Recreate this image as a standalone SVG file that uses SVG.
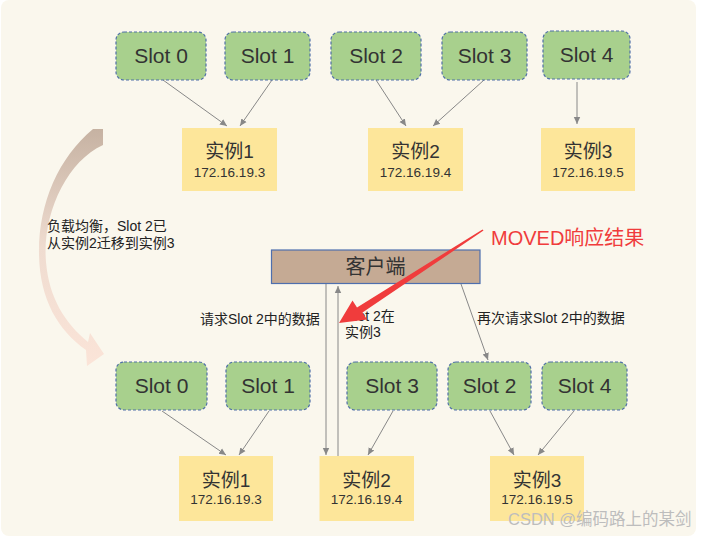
<svg xmlns="http://www.w3.org/2000/svg" width="704" height="537" viewBox="0 0 704 537">
<defs>
<style>
.slot{fill:#a8d08d;stroke:#4f6fa8;stroke-width:1.2;stroke-dasharray:3 2}
.inst{fill:#fde69a}
.st{font-family:"Liberation Sans","Noto Sans CJK SC",sans-serif;font-size:21px;fill:#333;text-anchor:middle;dominant-baseline:central}
.it{font-family:"Liberation Sans","Noto Sans CJK SC",sans-serif;font-size:19px;fill:#333;text-anchor:middle;dominant-baseline:central}
.ip{font-family:"Liberation Sans","Noto Sans CJK SC",sans-serif;font-size:13.5px;fill:#333;text-anchor:middle;dominant-baseline:central}
.lb{font-family:"Liberation Sans","Noto Sans CJK SC",sans-serif;font-size:14px;fill:#222;dominant-baseline:central}
.ln{stroke:#888;stroke-width:1;fill:none;marker-end:url(#ah)}
</style>
<marker id="ah" markerWidth="8" markerHeight="8" refX="7" refY="4" orient="auto" markerUnits="userSpaceOnUse">
<path d="M0,0.8 L7,4 L0,7.2 Z" fill="#888"/>
</marker>
<linearGradient id="cg" x1="0" y1="0" x2="0" y2="1">
<stop offset="0" stop-color="#c6b2a2"/>
<stop offset="0.5" stop-color="#efdcd0"/>
<stop offset="1" stop-color="#fbe4d8"/>
</linearGradient>
</defs>
<rect x="0" y="0" width="704" height="537" fill="#ffffff"/>
<rect x="1" y="0" width="695" height="536" rx="8" fill="#faf7ed"/>

<g id="curve-arrow">
<path d="M93,129 L103,129 L103,145 C66,162 42,215 46,262 C49,298 65,323 88,342 L90,333 L104,354 L87,366 L86,350 C58,330 40,300 39,255 C38,205 58,158 93,129 Z" fill="url(#cg)"/>
</g>

<g id="connectors">
<line class="ln" x1="163" y1="80" x2="227" y2="126"/>
<line class="ln" x1="272" y1="80" x2="240" y2="126"/>
<line class="ln" x1="376" y1="80" x2="406" y2="126"/>
<line class="ln" x1="484" y1="80" x2="433" y2="126"/>
<line class="ln" x1="577" y1="82" x2="577" y2="124"/>
<line class="ln" x1="162" y1="411" x2="226" y2="455"/>
<line class="ln" x1="269" y1="411" x2="239" y2="455"/>
<line class="ln" x1="393" y1="411" x2="368" y2="455"/>
<line class="ln" x1="490" y1="411" x2="514" y2="455"/>
<line class="ln" x1="574" y1="411" x2="538" y2="455"/>
<line class="ln" x1="326" y1="284" x2="326" y2="455"/>
<line class="ln" x1="338" y1="456" x2="338" y2="286"/>
<line class="ln" x1="461" y1="284" x2="488" y2="360"/>
</g>

<g id="top-slot0"><rect class="slot" x="116" y="32" width="90" height="48" rx="8"/><text class="st" x="161" y="55">Slot 0</text></g>
<g id="top-slot1"><rect class="slot" x="225" y="32" width="85" height="48" rx="8"/><text class="st" x="267.5" y="55">Slot 1</text></g>
<g id="top-slot2"><rect class="slot" x="331" y="32" width="90" height="48" rx="8"/><text class="st" x="376" y="55">Slot 2</text></g>
<g id="top-slot3"><rect class="slot" x="442" y="32" width="85" height="48" rx="8"/><text class="st" x="484.5" y="55">Slot 3</text></g>
<g id="top-slot4"><rect class="slot" x="543" y="31" width="87" height="48" rx="8"/><text class="st" x="586.5" y="54">Slot 4</text></g>

<g id="top-inst1"><rect class="inst" x="182" y="128" width="95" height="63"/><text class="it" x="229.5" y="151">实例1</text><text class="ip" x="229.5" y="172">172.16.19.3</text></g>
<g id="top-inst2"><rect class="inst" x="368" y="128" width="95" height="63"/><text class="it" x="415.5" y="151">实例2</text><text class="ip" x="415.5" y="172">172.16.19.4</text></g>
<g id="top-inst3"><rect class="inst" x="541" y="128" width="94" height="63"/><text class="it" x="588" y="151">实例3</text><text class="ip" x="588" y="172">172.16.19.5</text></g>

<g id="client"><rect x="271.5" y="250" width="208.5" height="33.5" fill="#c5aa94" stroke="#4e6fae" stroke-width="1.2"/><text class="st" x="375.5" y="266.5" style="font-size:20px">客户端</text></g>

<g id="bot-slot0"><rect class="slot" x="116" y="362" width="91" height="48" rx="8"/><text class="st" x="161.5" y="385">Slot 0</text></g>
<g id="bot-slot1"><rect class="slot" x="226" y="362" width="84" height="48" rx="8"/><text class="st" x="268" y="385">Slot 1</text></g>
<g id="bot-slot3"><rect class="slot" x="347" y="362" width="90" height="48" rx="8"/><text class="st" x="392" y="385">Slot 3</text></g>
<g id="bot-slot2"><rect class="slot" x="448" y="362" width="83" height="48" rx="8"/><text class="st" x="489.5" y="385">Slot 2</text></g>
<g id="bot-slot4"><rect class="slot" x="542" y="362" width="85" height="48" rx="8"/><text class="st" x="584.5" y="385">Slot 4</text></g>

<g id="bot-inst1"><rect class="inst" x="179" y="456" width="94" height="65"/><text class="it" x="226" y="480">实例1</text><text class="ip" x="226" y="499">172.16.19.3</text></g>
<g id="bot-inst2"><rect class="inst" x="319.5" y="456" width="94.5" height="65"/><text class="it" x="366.5" y="480">实例2</text><text class="ip" x="366.5" y="499">172.16.19.4</text></g>
<g id="bot-inst3"><rect class="inst" x="490" y="456" width="94" height="65"/><text class="it" x="537" y="480">实例3</text><text class="ip" x="537" y="499">172.16.19.5</text></g>

<g id="labels">
<text class="lb" x="47" y="226">负载均衡，Slot 2已</text>
<text class="lb" x="47" y="243">从实例2迁移到实例3</text>
<text class="lb" x="200" y="319">请求Slot 2中的数据</text>
<text class="lb" x="345" y="315.5">Slot 2在</text>
<text class="lb" x="345" y="332">实例3</text>
<text class="lb" x="477" y="318">再次请求Slot 2中的数据</text>
</g>

<g id="moved">
<path d="M483.5,230.6 L482.5,229.4 L357,307.5 L352.5,300.5 L339,323 L367,319.5 L362.5,312.5 Z" fill="#f03c3c"/>
<text x="491" y="238" style="font-family:'Liberation Sans','Noto Sans CJK SC',sans-serif;font-size:20px;fill:#f03c3c;dominant-baseline:central">MOVED响应结果</text>
</g>

<text x="508" y="519" style="font-family:'Liberation Sans','Noto Sans CJK SC',sans-serif;font-size:16.5px;fill:#bdbdbd;dominant-baseline:central">CSDN @编码路上的某剑</text>
</svg>
